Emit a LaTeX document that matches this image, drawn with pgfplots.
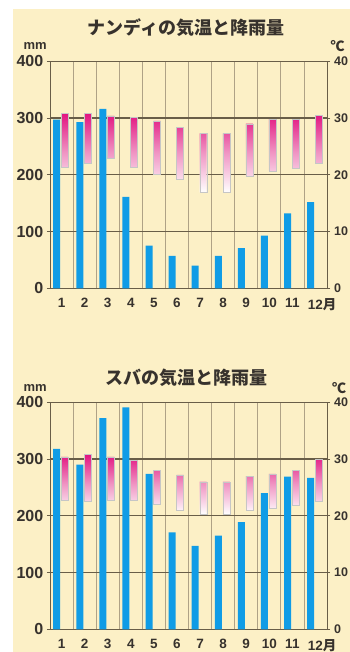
\documentclass[border=0pt]{standalone}
\usepackage{pgfplots}
\pgfplotsset{compat=1.18}
\usepackage{pgfplotstable}
\usepackage{fontspec}
\setmainfont{Liberation Sans}
\newfontfamily\cjk{Noto Sans CJK JP}
\definecolor{cream}{RGB}{252,240,198}
\definecolor{rainblue}{RGB}{16,156,230}
\definecolor{gridd}{RGB}{105,94,72}
\definecolor{gridl}{RGB}{175,162,134}
\definecolor{tmag}{RGB}{226,20,128}
\definecolor{tpink}{RGB}{240,150,196}
\definecolor{txt}{RGB}{55,50,45}

\pgfplotstableread{
m rain tmin tmax
1 297 21.3 30.8
2 293 22.1 30.8
3 316 23.0 30.4
4 161 21.3 30.1
5 75 20.1 29.5
6 57 19.2 28.3
7 40 16.9 27.3
8 57 17.0 27.3
9 71 19.8 29.0
10 93 20.6 29.8
11 132 21.1 29.8
12 152 22.0 30.5
}\nandi

\pgfplotstableread{
m rain tmin tmax
1 318 22.8 30.4
2 290 22.6 30.8
3 372 22.7 30.4
4 391 22.7 29.8
5 274 22.0 28.0
6 171 21.0 27.2
7 147 20.3 26.0
8 165 20.3 26.0
9 189 21.0 27.0
10 240 21.3 27.4
11 269 21.9 28.0
12 267 22.6 30.0
}\suva

\pgfplotsset{
  climbase/.style={
    scale only axis, width=277pt, height=227pt,
    xmin=0.5, xmax=12.5, ymin=0,
    anchor=south west,
    axis line style={draw=gridd, line width=1pt},
    tick style={draw=gridd, line width=1pt},
    tick align=outside,
    major tick length=3pt,
    /pgf/number format/assume math mode=true,
    axis background/.style={fill=none},
  },
  rainax/.style={
    climbase,
    ymax=400,
    ytick={0,100,200,300,400},
    yticklabels={0,100,200,300,400},
    ytick pos=left,
    ymajorgrids,
    major grid style={draw=gridd, line width=1.1pt},
    xtick={1,...,12},
    xticklabels={1,2,3,4,5,6,7,8,9,10,11,12\rlap{\cjk\bfseries 月}},
    major x tick style={draw=none},
    minor xtick={1.5,2.5,...,11.5},
    xminorgrids,
    minor grid style={draw=gridl, line width=0.8pt},
    minor x tick style={draw=none},
    yticklabel style={font=\bfseries\fontsize{16}{16}\selectfont, text=txt, inner sep=0pt, xshift=-3.5pt},
    xticklabel style={font=\bfseries\fontsize{13.5}{13.5}\selectfont, text=txt, anchor=north, inner sep=0pt, yshift=-7pt},
  },
  tempax/.style={
    climbase,
    ymax=40,
    ytick={0,10,20,30,40},
    yticklabels={0,10,20,30,40},
    axis y line*=right,
    hide x axis,
    yticklabel style={font=\bfseries\fontsize{12.5}{12.5}\selectfont, text=txt, inner sep=0pt, xshift=4pt},
    ybar stacked,
    bar width=7pt,
    bar shift=3.2pt,
  },
  tempbar/.style={draw=gray!45, line width=0.4pt, top color=tmag, bottom color=white, middle color=tpink},
}

\begin{document}
\begin{tikzpicture}
\fill[white] (0,0) rectangle (350pt,652pt);
\path[use as bounding box] (0,0) rectangle (350pt,652pt);
\fill[cream] (13pt,0) rectangle (350pt,643pt);

% ---- Nandi ----
\begin{axis}[rainax, at={(50pt,363.7pt)}]
\addplot[ybar, bar width=7pt, bar shift=-4.8pt, fill=rainblue, draw=none] table[x=m,y=rain]{\nandi};
\end{axis}
\begin{axis}[tempax, at={(50pt,363.7pt)}]
\addplot[draw=none, fill=none] table[x=m,y=tmin]{\nandi};
\addplot[tempbar] table[x=m, y expr=\thisrow{tmax}-\thisrow{tmin}]{\nandi};
\end{axis}
\node[font=\cjk\bfseries\fontsize{18}{18}\selectfont, text=txt] at (186pt,624.5pt) {ナンディの気温と降雨量};
\node[anchor=east, font=\bfseries\fontsize{13}{13}\selectfont, text=txt, inner sep=0pt] at (47pt,605.7pt) {mm};
\node[font=\cjk\bfseries\fontsize{14}{14}\selectfont, text=txt, inner sep=0pt] at (337.5pt,606.2pt) {℃};

% ---- Suva ----
\begin{axis}[rainax, at={(50pt,22.7pt)}]
\addplot[ybar, bar width=7pt, bar shift=-4.8pt, fill=rainblue, draw=none] table[x=m,y=rain]{\suva};
\end{axis}
\begin{axis}[tempax, at={(50pt,22.7pt)}]
\addplot[draw=none, fill=none] table[x=m,y=tmin]{\suva};
\addplot[tempbar] table[x=m, y expr=\thisrow{tmax}-\thisrow{tmin}]{\suva};
\end{axis}
\node[font=\cjk\bfseries\fontsize{18}{18}\selectfont, text=txt] at (186pt,274.5pt) {スバの気温と降雨量};
\node[anchor=east, font=\bfseries\fontsize{13}{13}\selectfont, text=txt, inner sep=0pt] at (47pt,264pt) {mm};
\node[font=\cjk\bfseries\fontsize{14}{14}\selectfont, text=txt, inner sep=0pt] at (339pt,263.7pt) {℃};
\end{tikzpicture}
\end{document}
